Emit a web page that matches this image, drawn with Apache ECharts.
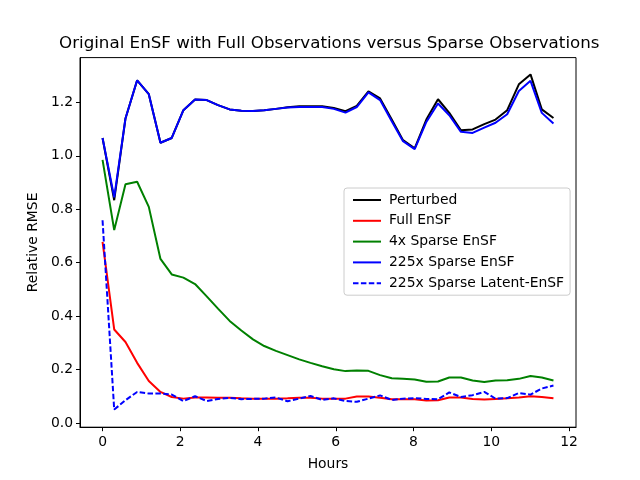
<!DOCTYPE html>
<html lang="en">

<head>
    <meta charset="UTF-8">
    <title>EnSF RMSE</title>
    <style>
        * {
            padding: 0;
            margin: 0;
            box-sizing: border-box;
        }

        html,
        body {
            width: 640px;
            height: 480px;
            background: #fff;
        }

        .chart-container {
            width: 640px;
            height: 480px;
        }
    </style>
</head>

<body>
    <div id="chart-container" class="chart-container"></div>
</body>

</html>
<script src="https://cdn.jsdelivr.net/npm/echarts@6/dist/echarts.min.js"></script>

<script>
    // time axis (hours)
    const hours = [0, 0.30, 0.59, 0.89, 1.19, 1.49, 1.78, 2.08, 2.38, 2.68,
        2.97, 3.27, 3.57, 3.87, 4.16, 4.46, 4.76, 5.06, 5.35, 5.65,
        5.95, 6.25, 6.54, 6.84, 7.14, 7.44, 7.73, 8.03, 8.33, 8.63,
        8.92, 9.22, 9.52, 9.82, 10.11, 10.41, 10.71, 11.01, 11.30, 11.60]

    const perturbed = [1.067, 0.834, 1.14, 1.283, 1.231, 1.049, 1.067, 1.171, 1.211, 1.209,
        1.19, 1.174, 1.169, 1.168, 1.171, 1.176, 1.182, 1.186, 1.186, 1.186,
        1.179, 1.167, 1.187, 1.242, 1.215, 1.136, 1.059, 1.028, 1.136, 1.212,
        1.161, 1.096, 1.099, 1.119, 1.136, 1.171, 1.268, 1.305, 1.174, 1.142]

    const fullEnsf = [0.678, 0.35, 0.303, 0.225, 0.157, 0.116, 0.097, 0.091, 0.095, 0.095,
        0.094, 0.094, 0.092, 0.091, 0.091, 0.091, 0.092, 0.094, 0.094, 0.091,
        0.091, 0.091, 0.099, 0.099, 0.094, 0.089, 0.089, 0.089, 0.084, 0.085,
        0.095, 0.095, 0.09, 0.088, 0.09, 0.092, 0.095, 0.1, 0.097, 0.092]

    const sparse4x = [0.985, 0.722, 0.894, 0.903, 0.809, 0.614, 0.556, 0.544, 0.52, 0.474,
        0.428, 0.382, 0.346, 0.313, 0.288, 0.27, 0.254, 0.238, 0.225, 0.212,
        0.201, 0.194, 0.196, 0.195, 0.179, 0.167, 0.165, 0.163, 0.154, 0.155,
        0.17, 0.17, 0.159, 0.153, 0.159, 0.16, 0.165, 0.176, 0.17, 0.159]

    const sparse225x = [1.067, 0.845, 1.14, 1.283, 1.231, 1.049, 1.067, 1.171, 1.211, 1.209,
        1.19, 1.174, 1.169, 1.168, 1.171, 1.176, 1.181, 1.183, 1.183, 1.183,
        1.176, 1.162, 1.183, 1.238, 1.209, 1.13, 1.055, 1.025, 1.127, 1.196,
        1.152, 1.09, 1.086, 1.106, 1.124, 1.156, 1.243, 1.281, 1.161, 1.121]

    const latent225x = [0.759, 0.05, 0.085, 0.116, 0.11, 0.11, 0.106, 0.082, 0.1, 0.082,
        0.09, 0.094, 0.089, 0.09, 0.091, 0.095, 0.081, 0.091, 0.101, 0.086,
        0.092, 0.082, 0.079, 0.091, 0.103, 0.086, 0.091, 0.093, 0.09, 0.089,
        0.114, 0.097, 0.104, 0.116, 0.091, 0.093, 0.112, 0.106, 0.129, 0.14]

    const xTicks = [0, 2, 4, 6, 8, 10, 12]
    const yTicks = [0, 0.2, 0.4, 0.6, 0.8, 1.0, 1.2]

    window.onload = function () {
        var myChart = echarts.init(document.getElementById('chart-container'))

        const font = 'DejaVu Sans'

        // pair hours with values
        function pairs(values) {
            return values.map((v, i) => [hours[i], v])
        }

        function lineSeries(name, values, color, dashed) {
            return {
                name: name,
                type: 'line',
                symbol: 'none',
                data: pairs(values),
                lineStyle: {
                    color: color,
                    width: 2,
                    type: dashed ? [5.5, 2.4] : 'solid'
                },
                itemStyle: {
                    color: color
                }
            }
        }

        var option = {
            animation: false,
            backgroundColor: '#fff',
            textStyle: {
                fontFamily: font
            },
            title: {
                text: 'Original EnSF with Full Observations versus Sparse Observations',
                left: 59,
                top: 35,
                padding: 0,
                textStyle: {
                    fontFamily: font,
                    fontSize: 16.7,
                    fontWeight: 'normal',
                    color: '#000'
                }
            },
            legend: {
                orient: 'vertical',
                left: 344,
                top: 188,
                padding: [5, 6, 5, 8],
                itemWidth: 28,
                itemHeight: 14,
                itemGap: 6.8,
                backgroundColor: 'rgba(255,255,255,0.8)',
                borderColor: '#ccc',
                borderWidth: 1,
                borderRadius: 3,
                // hide the marker, keep the line sample
                itemStyle: {
                    opacity: 0
                },
                textStyle: {
                    fontFamily: font,
                    fontSize: 13.9,
                    color: '#000',
                    padding: [0, 0, 0, 3]
                },
                data: ['Perturbed', 'Full EnSF', '4x Sparse EnSF', '225x Sparse EnSF', '225x Sparse Latent-EnSF']
            },
            grid: {
                left: 80,
                right: 64,
                top: 57.6,
                bottom: 52.8,
                show: true,
                borderColor: '#000',
                borderWidth: 1,
                backgroundColor: 'transparent'
            },
            xAxis: {
                type: 'value',
                min: -0.58,
                max: 12.18,
                name: 'Hours',
                nameLocation: 'middle',
                nameGap: 30,
                nameTextStyle: {
                    fontFamily: font,
                    fontSize: 13.9,
                    color: '#000'
                },
                splitLine: { show: false },
                axisLine: { show: true, onZero: false, lineStyle: { color: '#000' } },
                axisTick: {
                    show: true,
                    length: 4,
                    customValues: xTicks,
                    lineStyle: { color: '#000' }
                },
                axisLabel: {
                    customValues: xTicks,
                    margin: 8,
                    fontFamily: font,
                    fontSize: 13.9,
                    color: '#000'
                }
            },
            yAxis: {
                type: 'value',
                min: -0.016,
                max: 1.368,
                name: 'Relative RMSE',
                nameLocation: 'middle',
                nameGap: 38,
                nameTextStyle: {
                    fontFamily: font,
                    fontSize: 13.9,
                    color: '#000'
                },
                splitLine: { show: false },
                axisLine: { show: true, onZero: false, lineStyle: { color: '#000' } },
                axisTick: {
                    show: true,
                    length: 4,
                    customValues: yTicks,
                    lineStyle: { color: '#000' }
                },
                axisLabel: {
                    customValues: yTicks,
                    margin: 7,
                    fontFamily: font,
                    fontSize: 13.9,
                    color: '#000',
                    formatter: function (v) {
                        return v.toFixed(1)
                    }
                }
            },
            series: [
                lineSeries('Perturbed', perturbed, '#000000', false),
                lineSeries('Full EnSF', fullEnsf, '#ff0000', false),
                lineSeries('4x Sparse EnSF', sparse4x, '#008000', false),
                lineSeries('225x Sparse EnSF', sparse225x, '#0000ff', false),
                lineSeries('225x Sparse Latent-EnSF', latent225x, '#0000ff', true)
            ]
        }
        myChart.setOption(option)
    }
</script>
